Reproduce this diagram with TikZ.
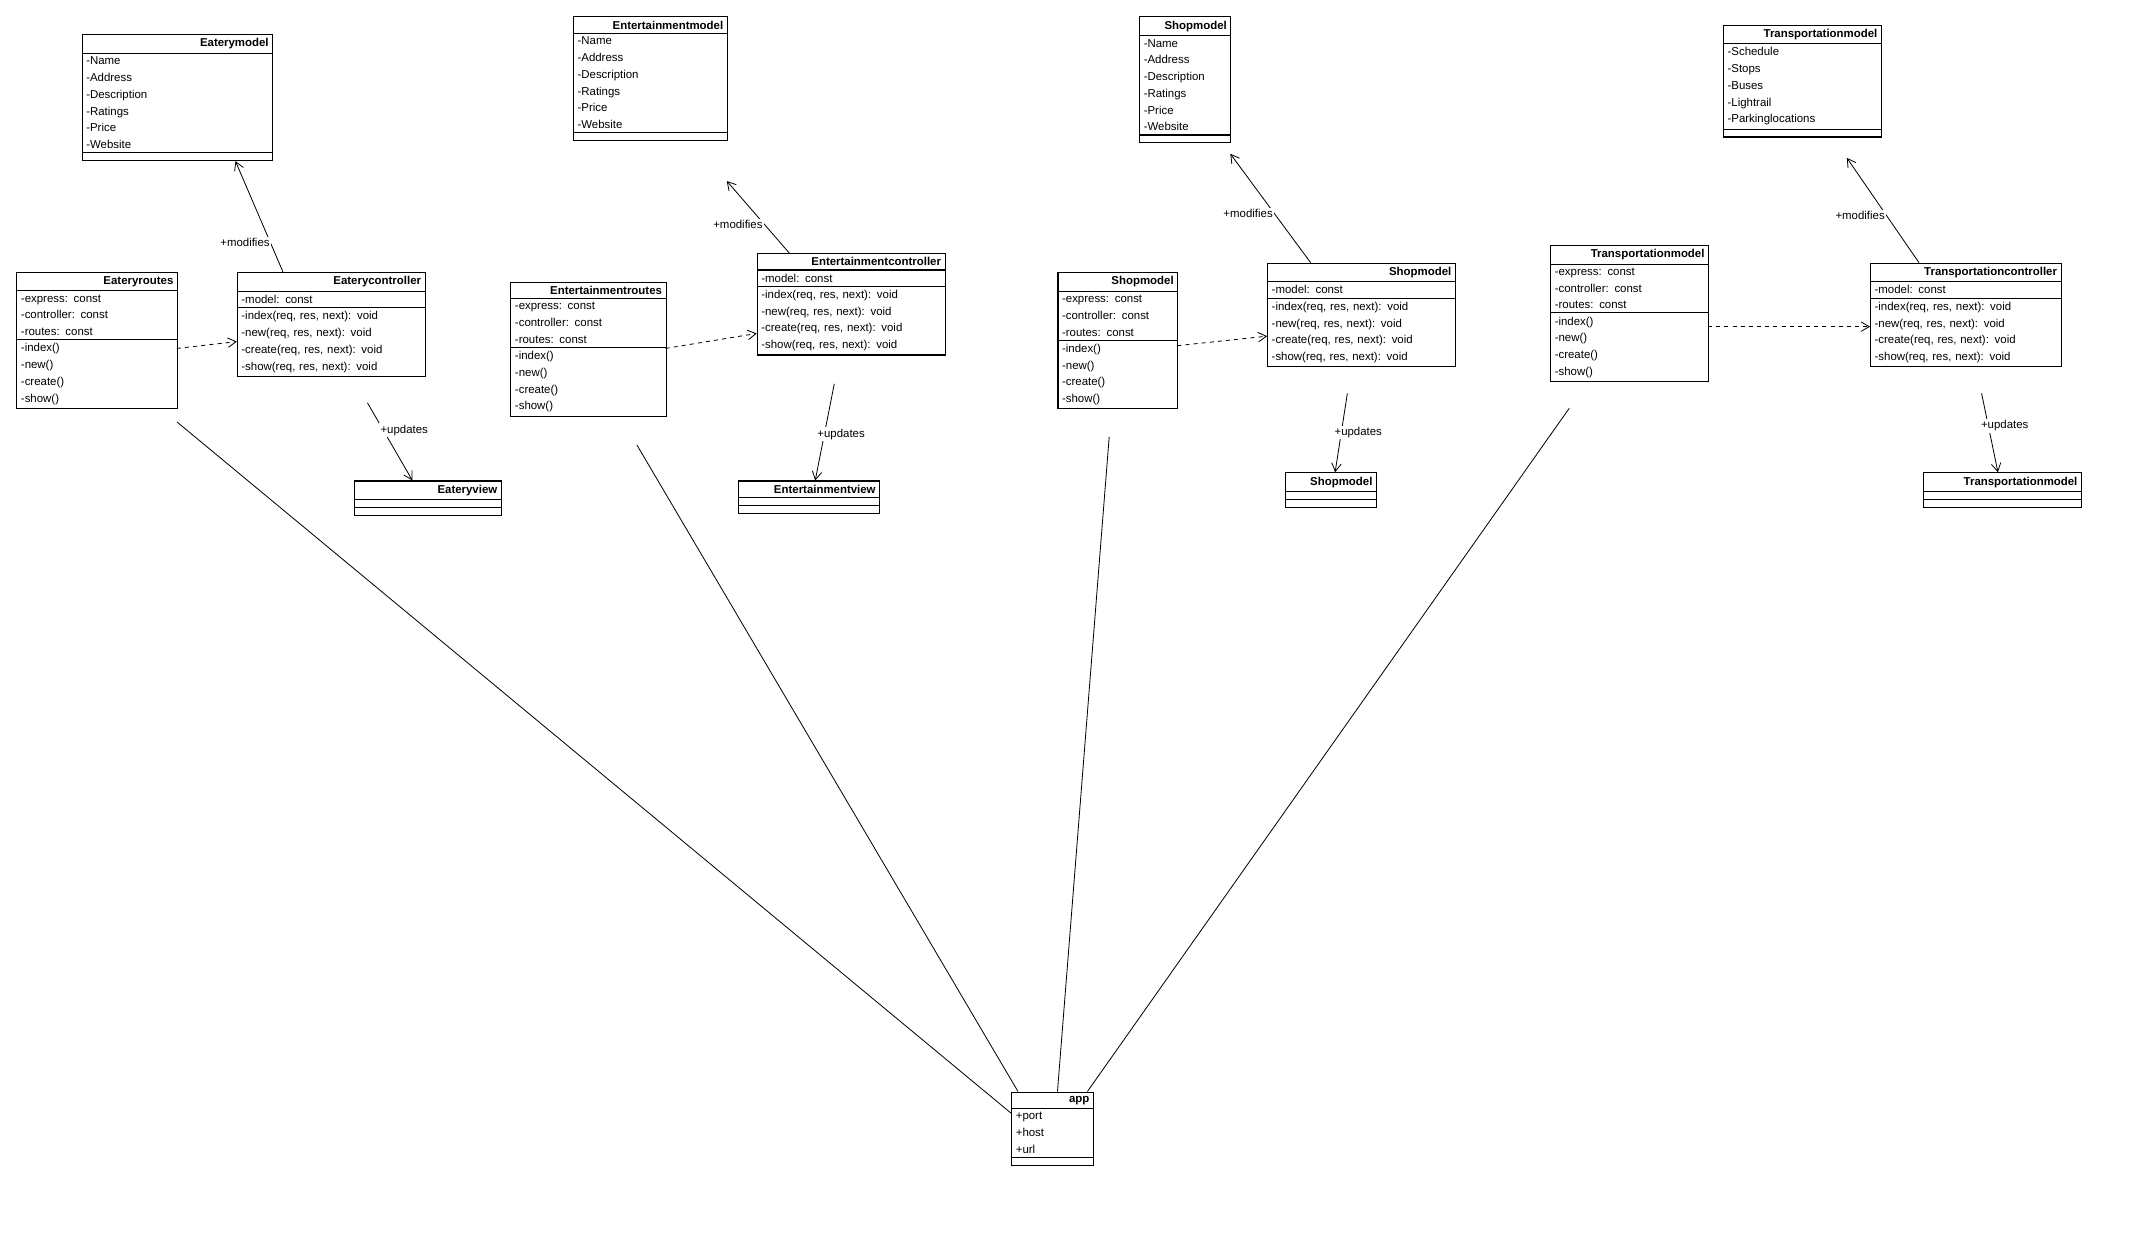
\documentclass[tikz,border=0pt]{standalone}
\usepackage{fontspec}
\setmainfont{Liberation Sans}
\usetikzlibrary{shapes.multipart,arrows.meta}
\newcommand{\ttl}[1]{\hspace*{\fill}\textbf{#1}\hspace*{\fill}}
\begin{document}
\begin{tikzpicture}[x=1pt,y=-1pt,
  cls/.style={rectangle split, rectangle split parts=3, draw, line width=0.8pt, fill=white,
    anchor=north west, font=\fontsize{8.4}{12.3}\selectfont, align=left,
    inner xsep=3pt, inner ysep=2.5pt, text width=#1pt-6pt,
    rectangle split empty part height=9pt},
  assoc/.style={line width=0.6pt},
  mod/.style={line width=0.6pt,-{Straight Barb[length=6pt,width=7pt]}},
  dep/.style={line width=0.6pt,dashed,-{Straight Barb[length=6pt,width=7pt]}},
  lbl/.style={font=\fontsize{8.4}{10}\selectfont, fill=white, inner sep=1pt}]
\useasboundingbox[fill=white] (0,0) rectangle (1568,908);
% models
\node[cls=140] (em) at (60,25) {\ttl{Eaterymodel}\nodepart{two}-Name\\-Address\\-Description\\-Ratings\\-Price\\-Website\nodepart{three}};
\node[cls=113] (enm) at (421,12) {\ttl{Entertainmentmodel}\nodepart{two}-Name\\-Address\\-Description\\-Ratings\\-Price\\-Website\nodepart{three}};
\node[cls=67] (sm) at (837,12) {\ttl{Shopmodel}\nodepart{two}-Name\\-Address\\-Description\\-Ratings\\-Price\\-Website\nodepart{three}};
\node[cls=116] (tm) at (1266,18) {\ttl{Transportationmodel}\nodepart{two}-Schedule\\-Stops\\-Buses\\-Lightrail\\-Parkinglocations\nodepart{three}};
% routes
\node[cls=118] (er) at (12,200) {\ttl{Eateryroutes}\nodepart{two}-express: const\\-controller: const\\-routes: const\nodepart{three}-index()\\-new()\\-create()\\-show()};
\node[cls=114] (enr) at (375,207) {\ttl{Entertainmentroutes}\nodepart{two}-express: const\\-controller: const\\-routes: const\nodepart{three}-index()\\-new()\\-create()\\-show()};
\node[cls=88] (sr) at (777,200) {\ttl{Shopmodel}\nodepart{two}-express: const\\-controller: const\\-routes: const\nodepart{three}-index()\\-new()\\-create()\\-show()};
\node[cls=116] (tr) at (1139,180) {\ttl{Transportationmodel}\nodepart{two}-express: const\\-controller: const\\-routes: const\nodepart{three}-index()\\-new()\\-create()\\-show()};
% controllers
\node[cls=138] (ec) at (174,200) {\ttl{Eaterycontroller}\nodepart{two}-model: const\nodepart{three}-index(req, res, next): void\\-new(req, res, next): void\\-create(req, res, next): void\\-show(req, res, next): void};
\node[cls=138] (enc) at (556,186) {\ttl{Entertainmentcontroller}\nodepart{two}-model: const\nodepart{three}-index(req, res, next): void\\-new(req, res, next): void\\-create(req, res, next): void\\-show(req, res, next): void};
\node[cls=138] (sc) at (931,193) {\ttl{Shopmodel}\nodepart{two}-model: const\nodepart{three}-index(req, res, next): void\\-new(req, res, next): void\\-create(req, res, next): void\\-show(req, res, next): void};
\node[cls=140] (tc) at (1374,193) {\ttl{Transportationcontroller}\nodepart{two}-model: const\nodepart{three}-index(req, res, next): void\\-new(req, res, next): void\\-create(req, res, next): void\\-show(req, res, next): void};
% views
\node[cls=108] (ev) at (260,353) {\ttl{Eateryview}\nodepart{two}\nodepart{three}};
\node[cls=104] (env) at (542,353) {\ttl{Entertainmentview}\nodepart{two}\nodepart{three}};
\node[cls=67] (sv) at (944,347) {\ttl{Shopmodel}\nodepart{two}\nodepart{three}};
\node[cls=116] (tv) at (1413,347) {\ttl{Transportationmodel}\nodepart{two}\nodepart{three}};
% app
\node[cls=60] (app) at (743,802) {\ttl{app}\nodepart{two}+port\\+host\\+url\nodepart{three}};
% modifies
\draw[mod] (ec.north west)++(34,0) coordinate (a1) -- (em.south west -| 173,0) ;
\coordinate (m1) at (173,147); \coordinate (m2) at (534,133); \coordinate (m3) at (904,113); \coordinate (m4) at (1357,116);
\coordinate (c1) at (208,200); \coordinate (c2) at (580,186); \coordinate (c3) at (963,193); \coordinate (c4) at (1410,193);
\draw[mod] (c2) -- (m2) node[lbl,pos=0.4,left] {+modifies};
\draw[mod] (c3) -- (m3) node[lbl,pos=0.45,left] {+modifies};
\draw[mod] (c4) -- (m4) node[lbl,pos=0.45,left] {+modifies};
\node[lbl] at (180,178) {+modifies};
% routes -> controllers
\coordinate (r1) at (130,256); \coordinate (k1) at (174,251);
\coordinate (r2) at (489,256); \coordinate (k2) at (556,245);
\coordinate (r3) at (865,254); \coordinate (k3) at (931,247);
\coordinate (r4) at (1255,240); \coordinate (k4) at (1374,240);
\draw[dep] (r1) -- (k1); \draw[dep] (r2) -- (k2); \draw[dep] (r3) -- (k3); \draw[dep] (r4) -- (k4);
% updates
\coordinate (u1) at (270,296); \coordinate (v1) at (303,353);
\coordinate (u2) at (613,282); \coordinate (v2) at (599,353);
\coordinate (u3) at (990,289); \coordinate (v3) at (981,347);
\coordinate (u4) at (1456,289); \coordinate (v4) at (1468,347);
\draw[mod] (u1) -- (v1); \node[lbl] at (297,316) {+updates};
\draw[mod] (u2) -- (v2); \node[lbl] at (618,319) {+updates};
\draw[mod] (u3) -- (v3); \node[lbl] at (998,318) {+updates};
\draw[mod] (u4) -- (v4); \node[lbl] at (1473,313) {+updates};
% app associations
\draw[assoc] (130,310) -- (743,818);
\draw[assoc] (468,327) -- (748,802);
\draw[assoc] (815,321) -- (777,802);
\draw[assoc] (1153,300) -- (799,802);
\end{tikzpicture}
\end{document}
